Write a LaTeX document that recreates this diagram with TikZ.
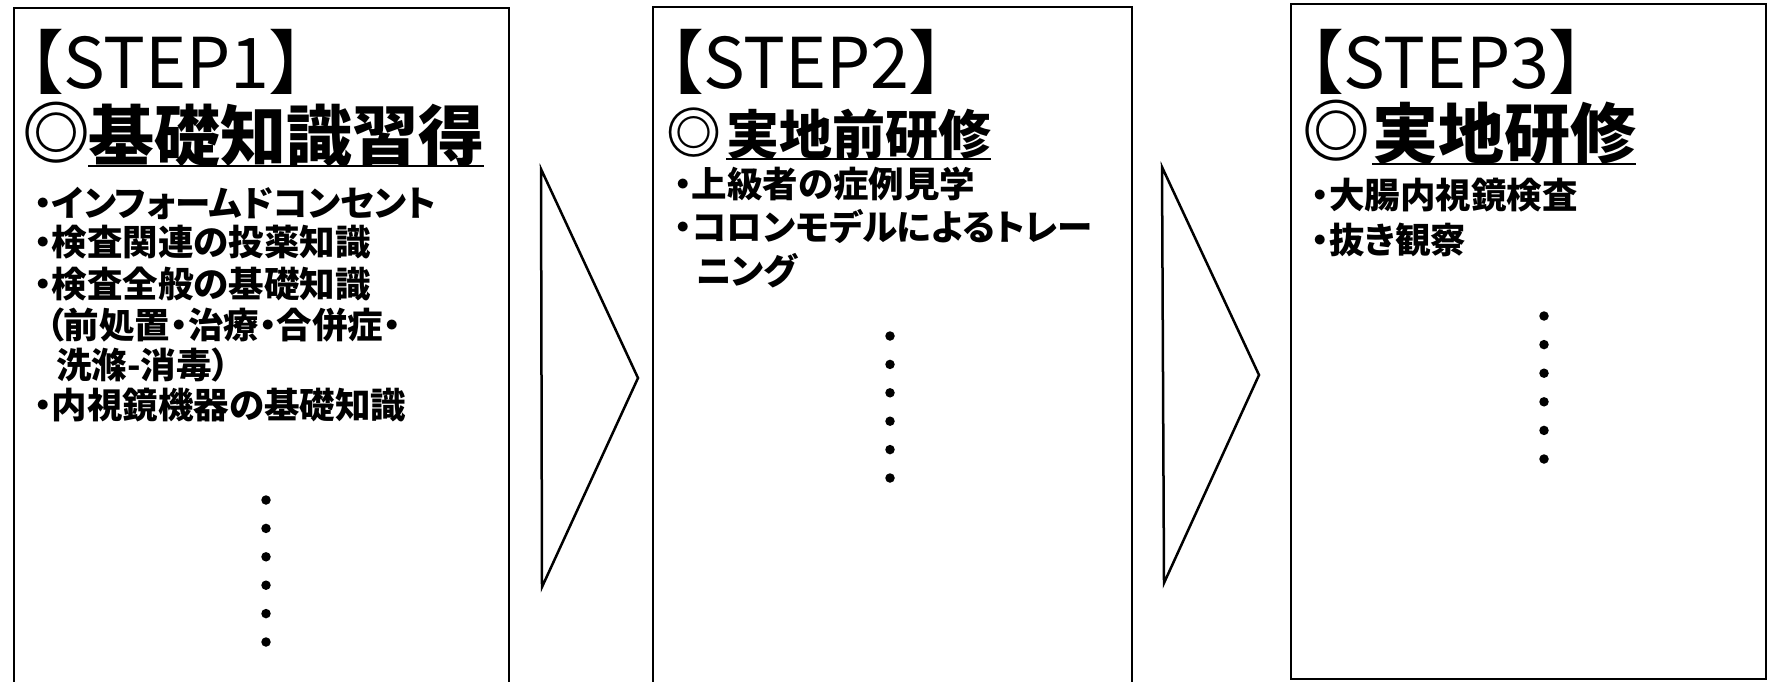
\documentclass[tikz,border=0pt]{standalone}
\usepackage{fontspec}
\newfontfamily\jp[RawFeature=+palt]{Noto Sans CJK JP}
\begin{document}
\begin{tikzpicture}[x=1pt,y=-1pt,
  frame/.style={line width=2.8pt, line cap=butt, line join=miter},
  chev/.style={line width=2.5pt, line join=miter},
  hdr/.style={inner sep=0pt, anchor=base west, font=\jp\fontsize{70}{70}\selectfont},
  ttl/.style={inner sep=0pt, anchor=base west, font=\jp\bfseries\fontsize{66}{66}\selectfont},
  ttls/.style={inner sep=0pt, anchor=base west, font=\jp\bfseries\fontsize{53}{53}\selectfont},
  circ/.style={inner sep=0pt, anchor=base west, font=\jp\bfseries\fontsize{68}{68}\selectfont},
  circs/.style={inner sep=0pt, anchor=base west, font=\jp\bfseries\fontsize{55}{55}\selectfont},
  item/.style={inner sep=0pt, anchor=base west, font=\jp\bfseries\fontsize{35.5}{35.5}\selectfont},
  uline/.style={line width=2.8pt},
  dotm/.style={circle, fill=black, inner sep=0pt, minimum size=9.5pt}]
\useasboundingbox (0,0) rectangle (1769,681);
\fill[white] (0,0) rectangle (1769,681);
% frames
\draw[frame] (14,700) -- (14,8) -- (509,8) -- (509,700);
\draw[frame] (653,700) -- (653,7) -- (1132,7) -- (1132,700);
\draw[frame] (1291,4) rectangle (1766,679);
% chevrons
\coordinate (a1t) at (541,169); \coordinate (a1b) at (542,587); \coordinate (a1p) at (638,378);
\coordinate (a2t) at (1162,167); \coordinate (a2b) at (1164,583); \coordinate (a2p) at (1259,375);
\draw[chev] (a1t) -- (a1p) -- (a1b) -- cycle;
\draw[chev] (a2t) -- (a2p) -- (a2b) -- cycle;
% box 1
\node[hdr] (s1) at (28,88) {【STEP1】};
\node[circ] (c1) at (22,158) {◎};
\node[ttl] (t1) at (88,160) {基礎知識習得};
\draw[uline] ([yshift=-6pt]t1.base west) -- ([yshift=-6pt]t1.base east);
\node[item] (i11) at (34,216) {・インフォームドコンセント};
\node[item] (i12) at (34,255) {・検査関連の投薬知識};
\node[item] (i13) at (34,297) {・検査全般の基礎知識};
\node[item] (i14) at (46,338) {（前処置・治療・合併症・};
\node[item] (i15) at (56,378) {洗滌-消毒）};
\node[item] (i16) at (34,418) {・内視鏡機器の基礎知識};
\foreach \i in {0,...,5} \node[dotm] (d1\i) at (266,500+28.4*\i) {};
% box 2
\node[hdr] (s2) at (668,88) {【STEP2】};
\node[circs] (c2) at (666,153) {◎};
\node[ttls] (t2) at (726,154) {実地前研修};
\draw[uline] ([yshift=-5pt]t2.base west) -- ([yshift=-5pt]t2.base east);
\node[item] (i21) at (674,197) {・上級者の症例見学};
\node[item] (i22) at (674,240) {・コロンモデルによるトレー};
\node[item] (i23) at (696,284) {ニング};
\foreach \i in {0,...,5} \node[dotm] (d2\i) at (890,336+28.4*\i) {};
% box 3
\node[hdr] (s3) at (1308,88) {【STEP3】};
\node[circ] (c3) at (1302,156) {◎};
\node[ttl] (t3) at (1372,158) {実地研修};
\draw[uline] ([yshift=-6pt]t3.base west) -- ([yshift=-6pt]t3.base east);
\node[item] (i31) at (1311,208) {・大腸内視鏡検査};
\node[item] (i32) at (1311,253) {・抜き観察};
\foreach \i in {0,...,5} \node[dotm] (d3\i) at (1544,316+28.6*\i) {};
\end{tikzpicture}
\end{document}
